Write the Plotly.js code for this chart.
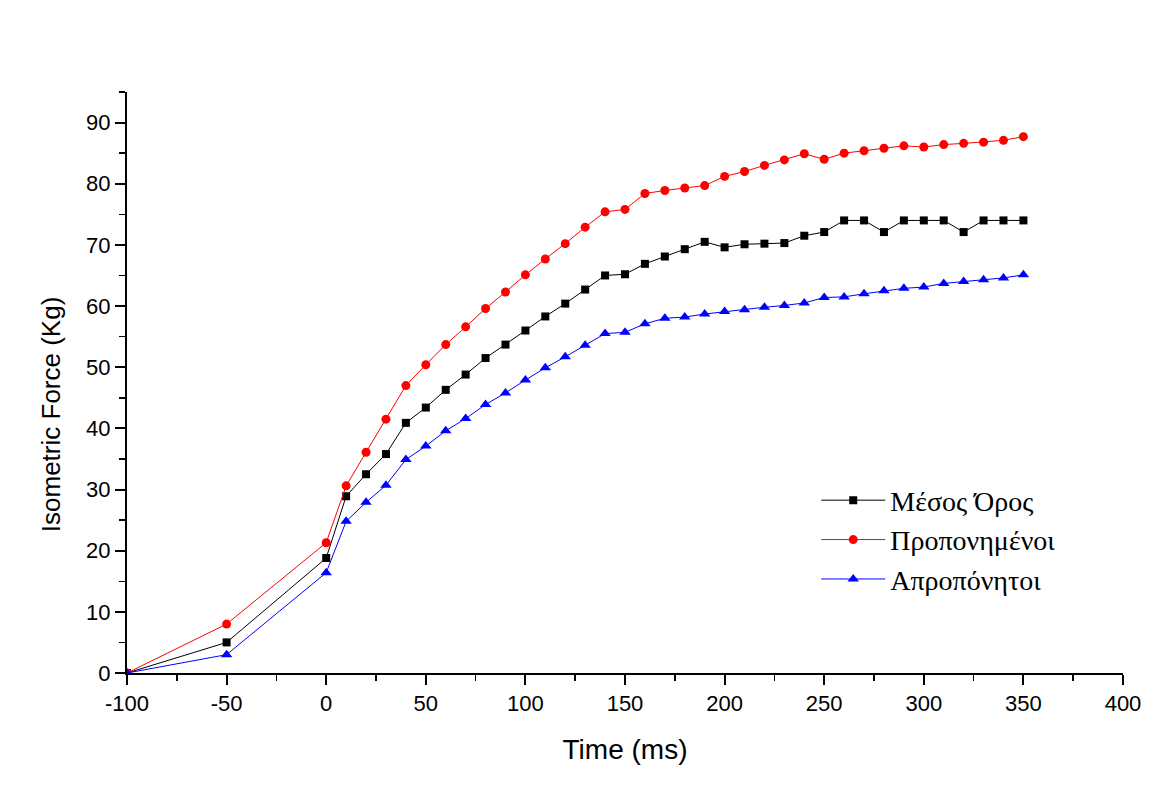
<!DOCTYPE html>
<html>
<head>
<meta charset="utf-8">
<script src="https://cdn.plot.ly/plotly-3.0.1.min.js"></script>
<style>html,body{margin:0;padding:0;background:#fff;}#chart{width:1151px;height:808px;}</style>
</head>
<body>
<div id="chart"></div>
<script>
const time = [-100, -50, 0, 10, 20, 30, 40, 50, 60, 70, 80, 90, 100, 110, 120, 130, 140, 150, 160, 170, 180, 190, 200, 210, 220, 230, 240, 250, 260, 270, 280, 290, 300, 310, 320, 330, 340, 350];
const mesosOros = [0, 5.0, 18.8, 28.9, 32.5, 35.8, 40.9, 43.4, 46.3, 48.8, 51.5, 53.7, 56.0, 58.3, 60.4, 62.7, 65.0, 65.2, 66.9, 68.1, 69.3, 70.5, 69.6, 70.1, 70.2, 70.3, 71.5, 72.1, 74.0, 74.0, 72.1, 74.0, 74.0, 74.0, 72.1, 74.0, 74.0, 74.0];
const proponimenoi = [0, 8.0, 21.3, 30.6, 36.1, 41.5, 47.0, 50.4, 53.7, 56.6, 59.6, 62.3, 65.1, 67.7, 70.2, 72.9, 75.4, 75.8, 78.4, 78.9, 79.3, 79.7, 81.2, 82.0, 83.0, 83.9, 84.9, 84.0, 85.0, 85.4, 85.8, 86.2, 86.0, 86.4, 86.6, 86.8, 87.1, 87.7];
const apropponitoi = [0, 3.0, 16.4, 24.8, 27.9, 30.7, 34.9, 37.1, 39.6, 41.6, 43.9, 45.8, 47.9, 49.9, 51.7, 53.6, 55.5, 55.7, 57.1, 58.0, 58.2, 58.7, 59.1, 59.4, 59.8, 60.1, 60.5, 61.4, 61.5, 62.0, 62.5, 62.9, 63.1, 63.7, 64.0, 64.3, 64.6, 65.1];
const seriesNames = ["Μέσος Όρος", "Προπονημένοι", "Απροπόνητοι"];
const xTickVals = [-100, -50, 0, 50, 100, 150, 200, 250, 300, 350, 400];
const xTickText = ["-100", "-50", "0", "50", "100", "150", "200", "250", "300", "350", "400"];
const xTitle = 'Time (ms)';
const yTitle = 'Isometric Force (Kg)';

const traces = [
  {x: time, y: mesosOros, name: seriesNames[0], legendgroup: 'a', mode: 'lines+markers',
   line: {color: '#000000', width: 1}, marker: {symbol: 'square', size: 8, color: '#000000'}},
  {x: time, y: proponimenoi, name: seriesNames[1], legendgroup: 'b', mode: 'lines+markers',
   line: {color: '#ff0000', width: 1}, marker: {symbol: 'circle', size: 9, color: '#ff0000'}},
  {x: time, y: apropponitoi, name: seriesNames[2], legendgroup: 'c', mode: 'lines+markers',
   line: {color: '#0000ff', width: 1}, marker: {symbol: 'triangle-up', size: 10, color: '#0000ff'}}
];

const sans = 'Liberation Sans, Arial, sans-serif';
const axisFont = {family: sans, size: 22, color: '#000'};
const layout = {
  width: 1151, height: 808,
  margin: {l: 127, r: 28, t: 92, b: 135},
  paper_bgcolor: '#fff', plot_bgcolor: '#fff',
  showlegend: true,
  legend: {x: 0.692, y: 0.34, xanchor: 'left', yanchor: 'top', bgcolor: 'rgba(0,0,0,0)',
           font: {family: 'Liberation Serif, Times New Roman, serif', size: 28, color: '#000'},
           itemwidth: 64, traceorder: 'grouped', tracegroupgap: 0},
  xaxis: {range: [-100, 400], tickmode: 'array', tickvals: xTickVals, ticktext: xTickText,
          showgrid: false, zeroline: false,
          showline: true, linecolor: '#000', linewidth: 2, ticks: 'outside', ticklen: 10, tickwidth: 2, tickcolor: '#000',
          minor: {dtick: 25, tick0: 0, ticks: 'outside', ticklen: 6, tickwidth: 1.5, tickcolor: '#000', showgrid: false},
          tickfont: axisFont,
          title: {text: xTitle, font: {family: sans, size: 28, color: '#000'}, standoff: 24}},
  yaxis: {range: [0, 95], dtick: 10, tick0: 0, showgrid: false, zeroline: false,
          showline: true, linecolor: '#000', linewidth: 2, ticks: 'outside', ticklen: 10, tickwidth: 2, tickcolor: '#000',
          minor: {dtick: 5, ticks: 'outside', ticklen: 6, tickwidth: 1.5, tickcolor: '#000', showgrid: false},
          tickfont: axisFont,
          title: {text: ''}},
  annotations: [{text: yTitle, xref: 'paper', yref: 'paper', x: -0.076, y: 0.446, xanchor: 'center', yanchor: 'middle',
                 textangle: -90, showarrow: false, font: {family: sans, size: 26, color: '#000'}}]
};
Plotly.newPlot('chart', traces, layout, {displayModeBar: false, staticPlot: true});
</script>
</body>
</html>
